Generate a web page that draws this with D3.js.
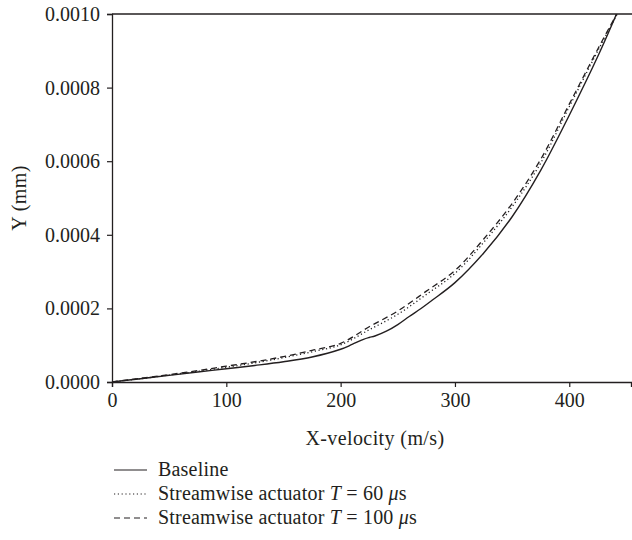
<!DOCTYPE html>
<html>
<head>
<meta charset="utf-8">
<script src="https://cdn.jsdelivr.net/npm/d3@7"></script>
<style>
  html, body { margin: 0; padding: 0; background: #fff; }
  svg text { font-family: "Liberation Serif", "Times New Roman", serif; fill: #231f20; }
</style>
</head>
<body>
<svg id="chart" width="632" height="540"></svg>
<script>
// X-velocity (m/s) grid for each series
const baselineX = [0, 25, 50, 75, 100, 125, 150, 175, 200, 210, 220, 225, 230, 240, 250, 260, 270, 280, 300, 325, 350, 375, 400, 425, 443];
const baselineY = [0, 0.000009, 0.000018, 0.000027, 0.000036, 0.000045, 0.000055, 0.000068, 0.000089, 0.000102, 0.000116, 0.000121, 0.000125, 0.000138, 0.000156, 0.000178, 0.000199, 0.000222, 0.000270, 0.000350, 0.000449, 0.000575, 0.000725, 0.000885, 0.001012];

const dottedX = [0, 25, 50, 75, 100, 125, 150, 175, 200, 225, 250, 275, 300, 325, 350, 375, 400, 425, 444];
const dottedY = [0, 0.000009, 0.000019, 0.000029, 0.000040, 0.000052, 0.000066, 0.000082, 0.000101, 0.000142, 0.000184, 0.000238, 0.000295, 0.000379, 0.000476, 0.000595, 0.000748, 0.000900, 0.001012];

const dashedX = [0, 25, 50, 75, 100, 125, 150, 175, 200, 225, 250, 275, 300, 325, 350, 375, 400, 425, 444];
const dashedY = [0, 0.000010, 0.000020, 0.000031, 0.000043, 0.000055, 0.000069, 0.000086, 0.000105, 0.000150, 0.000193, 0.000247, 0.000303, 0.000388, 0.000485, 0.000605, 0.000755, 0.000905, 0.001014];

const xTicks = [0, 100, 200, 300, 400];
const yTicks = [0, 0.0002, 0.0004, 0.0006, 0.0008, 0.0010];
const seriesNames = ["Baseline", "Streamwise actuator", "Streamwise actuator"];
const seriesT = [null, "60", "100"];
const dashes = [null, "1.2,2.6", "6,4"];

const svg = d3.select("#chart");
const mLeft = 112, mRight = 631, mTop = 14, mBottom = 382;
const x = d3.scaleLinear().domain([0, 454]).range([mLeft, mRight]);
const y = d3.scaleLinear().domain([0, 0.001]).range([mBottom, mTop]);

svg.append("defs").append("clipPath").attr("id", "clip")
  .append("rect").attr("x", mLeft).attr("y", mTop).attr("width", mRight - mLeft).attr("height", mBottom - mTop);

const fs = 20;
const ls = "0.4px";
// Y axis
const yAxis = svg.append("g").attr("transform", `translate(${mLeft},0)`)
  .call(d3.axisLeft(y).tickValues(yTicks).tickFormat(d3.format(".4f")).tickSize(5).tickPadding(7));
// X axis
const xAxis = svg.append("g").attr("transform", `translate(0,${mBottom})`)
  .call(d3.axisBottom(x).tickValues(xTicks).tickFormat(d3.format("d")).tickSize(5).tickPadding(6));
[yAxis, xAxis].forEach(g => {
  g.selectAll("text").attr("font-size", fs).attr("font-family", "Liberation Serif, serif").attr("fill", "#231f20");
  g.selectAll("line").attr("stroke", "#231f20").attr("stroke-width", 1.2);
  g.select(".domain").attr("stroke", "#231f20").attr("stroke-width", 1.3);
});
// top frame line
svg.append("line").attr("x1", mLeft).attr("x2", 632).attr("y1", mTop).attr("y2", mTop)
  .attr("stroke", "#231f20").attr("stroke-width", 1.3);

// Series lines
const line = d3.line().x(d => x(d[0])).y(d => y(d[1])).curve(d3.curveCatmullRom.alpha(0.5));
const series = [
  d3.zip(baselineX, baselineY),
  d3.zip(dottedX, dottedY),
  d3.zip(dashedX, dashedY)
];
const g = svg.append("g").attr("clip-path", "url(#clip)");
series.forEach((s, i) => {
  g.append("path").datum(s).attr("d", line)
    .attr("fill", "none").attr("stroke", "#231f20")
    .attr("stroke-width", i === 0 ? 1.4 : 1.3)
    .attr("stroke-dasharray", dashes[i]);
});

// Axis titles
svg.append("text").attr("x", 375).attr("y", 445).attr("letter-spacing", ls)
  .attr("text-anchor", "middle").attr("font-size", fs).text("X-velocity (m/s)");
svg.append("text").attr("transform", `translate(26,${(mTop + mBottom) / 2}) rotate(-90)`)
  .attr("letter-spacing", ls)
  .attr("text-anchor", "middle").attr("font-size", fs).text("Y (mm)");

// Legend
const legY = [476, 500, 524];
seriesNames.forEach((name, i) => {
  svg.append("line").attr("x1", 114).attr("x2", 147).attr("y1", legY[i] - 6).attr("y2", legY[i] - 6)
    .attr("stroke", "#231f20").attr("stroke-width", 1.2).attr("stroke-dasharray", dashes[i]);
  const t = svg.append("text").attr("x", 158).attr("y", legY[i]).attr("font-size", fs).attr("letter-spacing", "0.2px");
  t.append("tspan").text(name);
  if (seriesT[i]) {
    t.append("tspan").text(" ");
    t.append("tspan").attr("font-style", "italic").text("T");
    t.append("tspan").text(" = " + seriesT[i] + " ");
    t.append("tspan").attr("font-style", "italic").text("\u03bc");
    t.append("tspan").text("s");
  }
});
</script>
</body>
</html>
